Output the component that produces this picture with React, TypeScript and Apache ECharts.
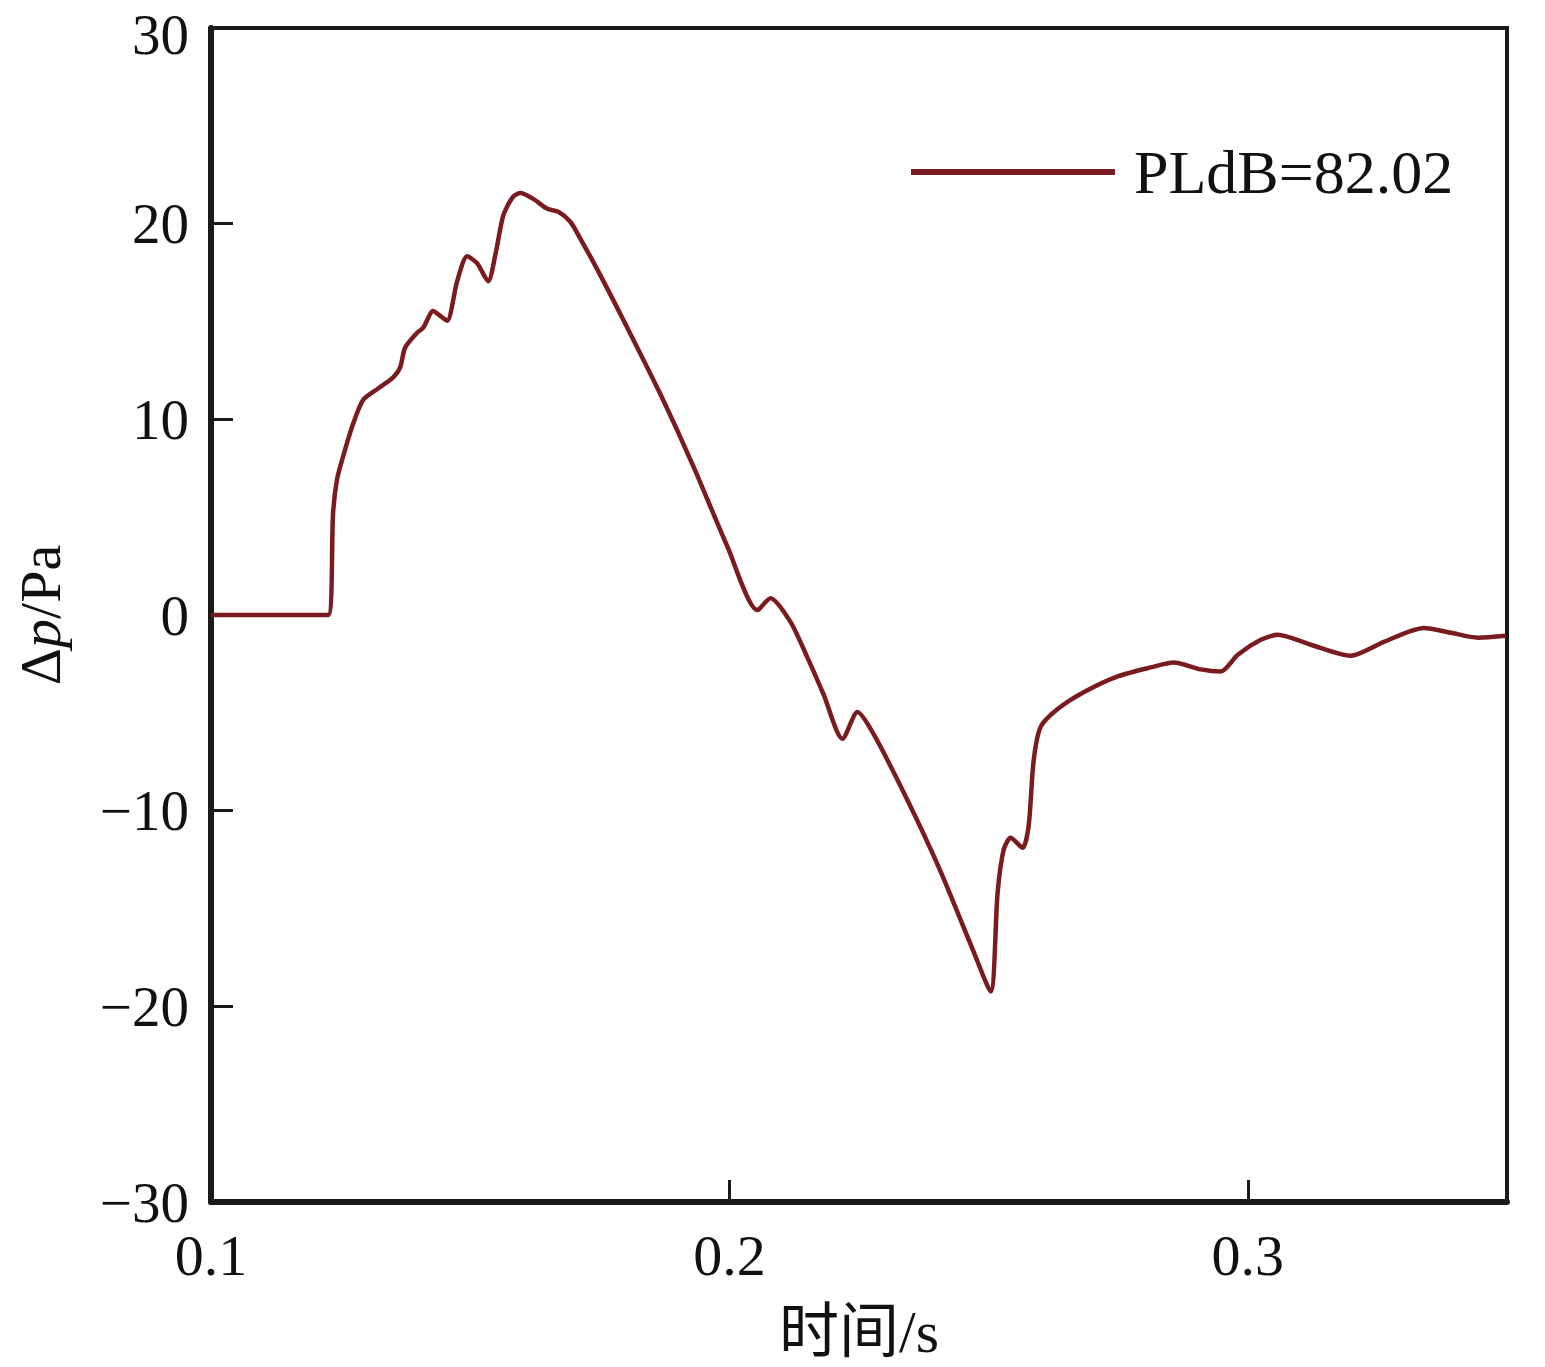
import React, { useEffect, useRef } from "react";
import * as echarts from "echarts";

const timeS = [
  0.1, 0.1226, 0.12355, 0.12432, 0.12548, 0.12741, 0.12934, 0.13205, 0.13514, 0.13649,
  0.13745, 0.13977, 0.14093, 0.14286, 0.14421, 0.14556, 0.14749, 0.14942, 0.15135, 0.15347,
  0.15483, 0.15637, 0.15811, 0.15965, 0.16216, 0.16486, 0.16699, 0.16931, 0.17124, 0.1751,
  0.18031, 0.18668, 0.19305, 0.19961, 0.20541, 0.20792, 0.21178, 0.21506, 0.21815, 0.22181,
  0.22471, 0.2278, 0.23436, 0.24073, 0.2471, 0.25039, 0.25174, 0.2529, 0.25425, 0.25656,
  0.25772, 0.25869, 0.26004, 0.26332, 0.26834, 0.2749, 0.28127, 0.28571, 0.29093, 0.29479,
  0.29807, 0.30251, 0.30579, 0.31216, 0.31988, 0.32625, 0.33398, 0.33919, 0.3444, 0.3498,
];
const deltaP = [
  0, 0, 5.22, 6.94, 8.1, 9.77, 10.99, 11.54, 12.15, 12.66,
  13.67, 14.43, 14.68, 15.54, 15.29, 15.04, 17.06, 18.33, 17.97, 17.06,
  18.38, 20.41, 21.32, 21.57, 21.27, 20.76, 20.61, 20.1, 19.24, 17.37,
  14.68, 11.29, 7.6, 3.5, 0.25, 0.86, -0.35, -2.18, -4.05, -6.33,
  -4.96, -6.08, -9.47, -13.1, -17.2, -19.24, -14.18, -12.0, -11.39, -11.9,
  -10.78, -7.44, -5.72, -4.81, -3.95, -3.14, -2.68, -2.43, -2.78, -2.89,
  -2.03, -1.27, -1.01, -1.52, -2.08, -1.37, -0.66, -0.91, -1.16, -1.06,
];
const seriesName = "PLdB=82.02";
const xTicks = { min: 0.1, max: 0.35, interval: 0.1 };
const yTicks = { min: -30, max: 30, interval: 10 };

const FONT = "'Liberation Serif', 'Times New Roman', 'Noto Sans CJK SC', serif";
const LINE = "#7a1b1f";

export default function App() {
  const ref = useRef<HTMLDivElement>(null);
  useEffect(() => {
    if (!ref.current) return;
    const chart = echarts.init(ref.current, undefined, { renderer: "svg" });
    const data = timeS.map((t, i) => [t, deltaP[i]]);
    chart.setOption({
      animation: false,
      backgroundColor: "#ffffff",
      textStyle: { fontFamily: FONT, color: "#111" },
      grid: {
        left: 211,
        right: 38,
        top: 28,
        bottom: 154,
        show: true,
        borderColor: "#1a1a1a",
        borderWidth: 4,
      },
      legend: {
        left: 906,
        top: 136,
        icon: "rect",
        itemWidth: 204,
        itemHeight: 6,
        itemGap: 10,
        textStyle: { fontFamily: FONT, fontSize: 62, color: "#111", padding: [0, 0, 0, 14] },
        data: [seriesName],
      },
      xAxis: {
        type: "value",
        min: xTicks.min,
        max: xTicks.max,
        interval: xTicks.interval,
        name: "时间/s",
        nameLocation: "middle",
        nameGap: 100,
        nameTextStyle: { fontFamily: FONT, fontSize: 60, color: "#111" },
        axisLine: { onZero: false, lineStyle: { color: "#1a1a1a", width: 6 } },
        axisTick: { inside: true, length: 22, lineStyle: { color: "#1a1a1a", width: 3 } },
        axisLabel: {
          fontFamily: FONT,
          fontSize: 58,
          color: "#111",
          margin: 24,
          showMaxLabel: false,
          formatter: (v: number) => v.toFixed(1),
        },
        splitLine: { show: false },
      },
      yAxis: {
        type: "value",
        min: yTicks.min,
        max: yTicks.max,
        interval: yTicks.interval,
        name: "{a|Δ}{i|p}{a|/Pa}",
        nameLocation: "middle",
        nameGap: 142,
        nameTextStyle: {
          fontFamily: FONT,
          fontSize: 58,
          color: "#111",
          rich: {
            a: { fontFamily: FONT, fontSize: 58, color: "#111" },
            i: { fontFamily: FONT, fontSize: 58, color: "#111", fontStyle: "italic" },
          },
        },
        axisLine: { onZero: false, lineStyle: { color: "#1a1a1a", width: 6 } },
        axisTick: { inside: true, length: 22, lineStyle: { color: "#1a1a1a", width: 3 } },
        axisLabel: {
          fontFamily: FONT,
          fontSize: 57,
          color: "#111",
          margin: 22,
          formatter: (v: number) => {
            const s = String(v).replace("-", "\u2212");
            return v === yTicks.max ? `{top|${s}}` : s;
          },
          rich: {
            top: {
              fontFamily: FONT,
              fontSize: 57,
              color: "#111",
              padding: [12, 0, 0, 0],
            },
          },
        },
        splitLine: { show: false },
      },
      series: [
        {
          name: seriesName,
          type: "line",
          data,
          symbol: "none",
          smooth: 0.25,
          itemStyle: { color: LINE },
          lineStyle: { color: LINE, width: 4.5 },
        },
      ],
    });
    return () => chart.dispose();
  }, []);
  return (
    <div
      ref={ref}
      style={{ position: "absolute", left: 0, top: 0, width: 1545, height: 1367 }}
    />
  );
}
